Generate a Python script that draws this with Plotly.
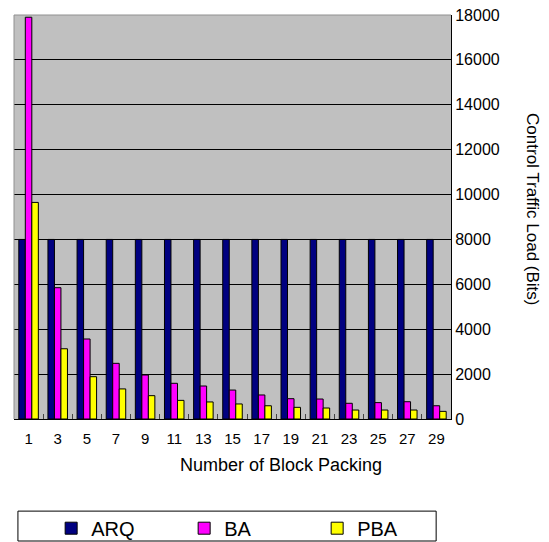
import plotly.graph_objects as go

categories = ["1", "3", "5", "7", "9", "11", "13", "15", "17", "19", "21", "23", "25", "27", "29"]
arq = [8000, 8000, 8000, 8000, 8000, 8000, 8000, 8000, 8000, 8000, 8000, 8000, 8000, 8000, 8000]
ba = [17900, 5850, 3565, 2480, 1960, 1590, 1470, 1290, 1070, 905, 890, 700, 730, 770, 590]
pba = [9650, 3130, 1885, 1340, 1040, 830, 760, 670, 590, 520, 490, 400, 400, 400, 340]
y_ticks = [0, 2000, 4000, 6000, 8000, 10000, 12000, 14000, 16000, 18000]

FONT = "Liberation Sans, Arial, sans-serif"
outline = dict(color="black", width=1)

fig = go.Figure()
fig.add_trace(go.Bar(name="ARQ", x=categories, y=arq, marker=dict(color="#000080", line=outline)))
fig.add_trace(go.Bar(name="BA", x=categories, y=ba, marker=dict(color="#FF00FF", line=outline)))
fig.add_trace(go.Bar(name="PBA", x=categories, y=pba, marker=dict(color="#FFFF00", line=outline)))

fig.update_layout(
    width=549, height=542,
    margin=dict(l=14, r=98, t=15, b=123, autoexpand=False),
    paper_bgcolor="white",
    plot_bgcolor="#C0C0C0",
    barmode="group",
    bargap=0.33,
    bargroupgap=0,
    font=dict(family=FONT, color="black", size=15),
    showlegend=True,
    legend=dict(
        orientation="h", x=0.085, xanchor="left", y=-0.222, yanchor="top",
        font=dict(size=20), entrywidth=88, entrywidthmode="pixels",
        bgcolor="rgba(0,0,0,0)", borderwidth=0, itemclick=False,
    ),
    xaxis=dict(
        type="category", showgrid=False, showline=True, linecolor="black", linewidth=1,
        ticks="inside", tickson="boundaries", ticklen=5, tickcolor="#444",
        tickfont=dict(size=15), ticklabelstandoff=6,
    ),
    yaxis=dict(
        side="right", range=[0, 18000], tickvals=y_ticks,
        ticktext=[str(v) for v in y_ticks],
        showgrid=True, gridcolor="black", gridwidth=1,
        showline=True, linecolor="black", linewidth=1,
        ticks="inside", ticklen=5, tickcolor="black",
        tickfont=dict(size=16), zeroline=False,
    ),
    annotations=[
        dict(text="Number of Block Packing", xref="paper", yref="paper",
             x=0.612, y=-0.114, showarrow=False, font=dict(size=18),
             xanchor="center", yanchor="middle"),
        dict(text="Control Traffic Load (Bits)", xref="paper", yref="paper",
             x=1.185, y=0.52, showarrow=False, font=dict(size=17), textangle=90,
             xanchor="center", yanchor="middle"),
    ],
    shapes=[
        dict(type="line", xref="paper", yref="paper", x0=0, x1=1, y0=1, y1=1,
             line=dict(color="#909090", width=1)),
        dict(type="line", xref="paper", yref="paper", x0=0, x1=0, y0=0, y1=1,
             line=dict(color="#909090", width=1)),
        dict(type="rect", xref="paper", yref="paper", x0=0.009, x1=0.966,
             y0=-0.302, y1=-0.228, line=dict(color="black", width=1),
             fillcolor="rgba(0,0,0,0)"),
    ],
)

fig.write_html(
    "out.html",
    config={"displayModeBar": False},
    post_script="document.body.style.margin='0';document.body.style.overflow='hidden';",
)
